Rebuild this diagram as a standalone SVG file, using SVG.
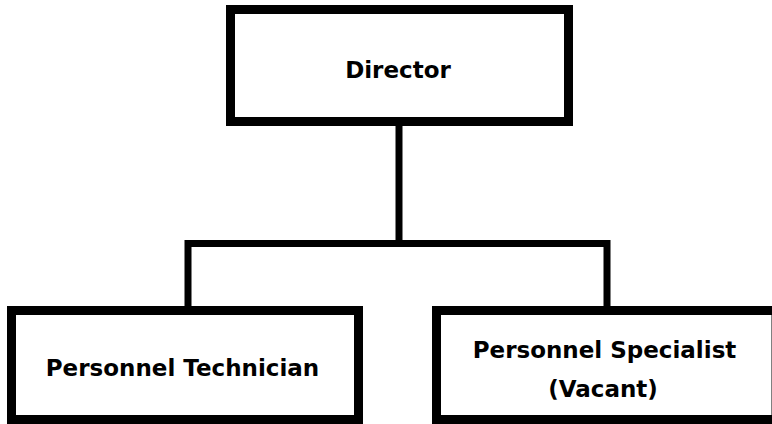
<svg xmlns="http://www.w3.org/2000/svg" width="772" height="424" viewBox="0 0 772 424">
  <style>
    .box { fill: #ffffff; stroke: #000000; stroke-width: 9; }
    .link { fill: none; stroke: #000000; stroke-width: 7; stroke-linejoin: miter; stroke-linecap: square; }
    .label { font-family: "DejaVu Sans", "Liberation Sans", sans-serif; font-weight: bold; font-size: 23px; fill: #000000; text-anchor: middle; }
  </style>
  <rect x="0" y="0" width="772" height="424" fill="#ffffff"/>

  <g id="connectors">
    <path class="link" d="M399 126 V243.5"/>
    <path class="link" d="M188 306 V243.5 H607 V306"/>
  </g>

  <g id="director">
    <rect class="box" x="230.5" y="9.5" width="338" height="112"/>
    <text class="label" x="398" y="78">Director</text>
  </g>

  <g id="personnel-technician">
    <rect class="box" x="11.5" y="310.5" width="347" height="109"/>
    <text class="label" x="182.5" y="376">Personnel Technician</text>
  </g>

  <g id="personnel-specialist">
    <rect class="box" x="436.5" y="310.5" width="339.5" height="109"/>
    <text class="label" x="604.5" y="358">Personnel Specialist</text>
    <text class="label" x="603" y="397">(Vacant)</text>
  </g>
</svg>
